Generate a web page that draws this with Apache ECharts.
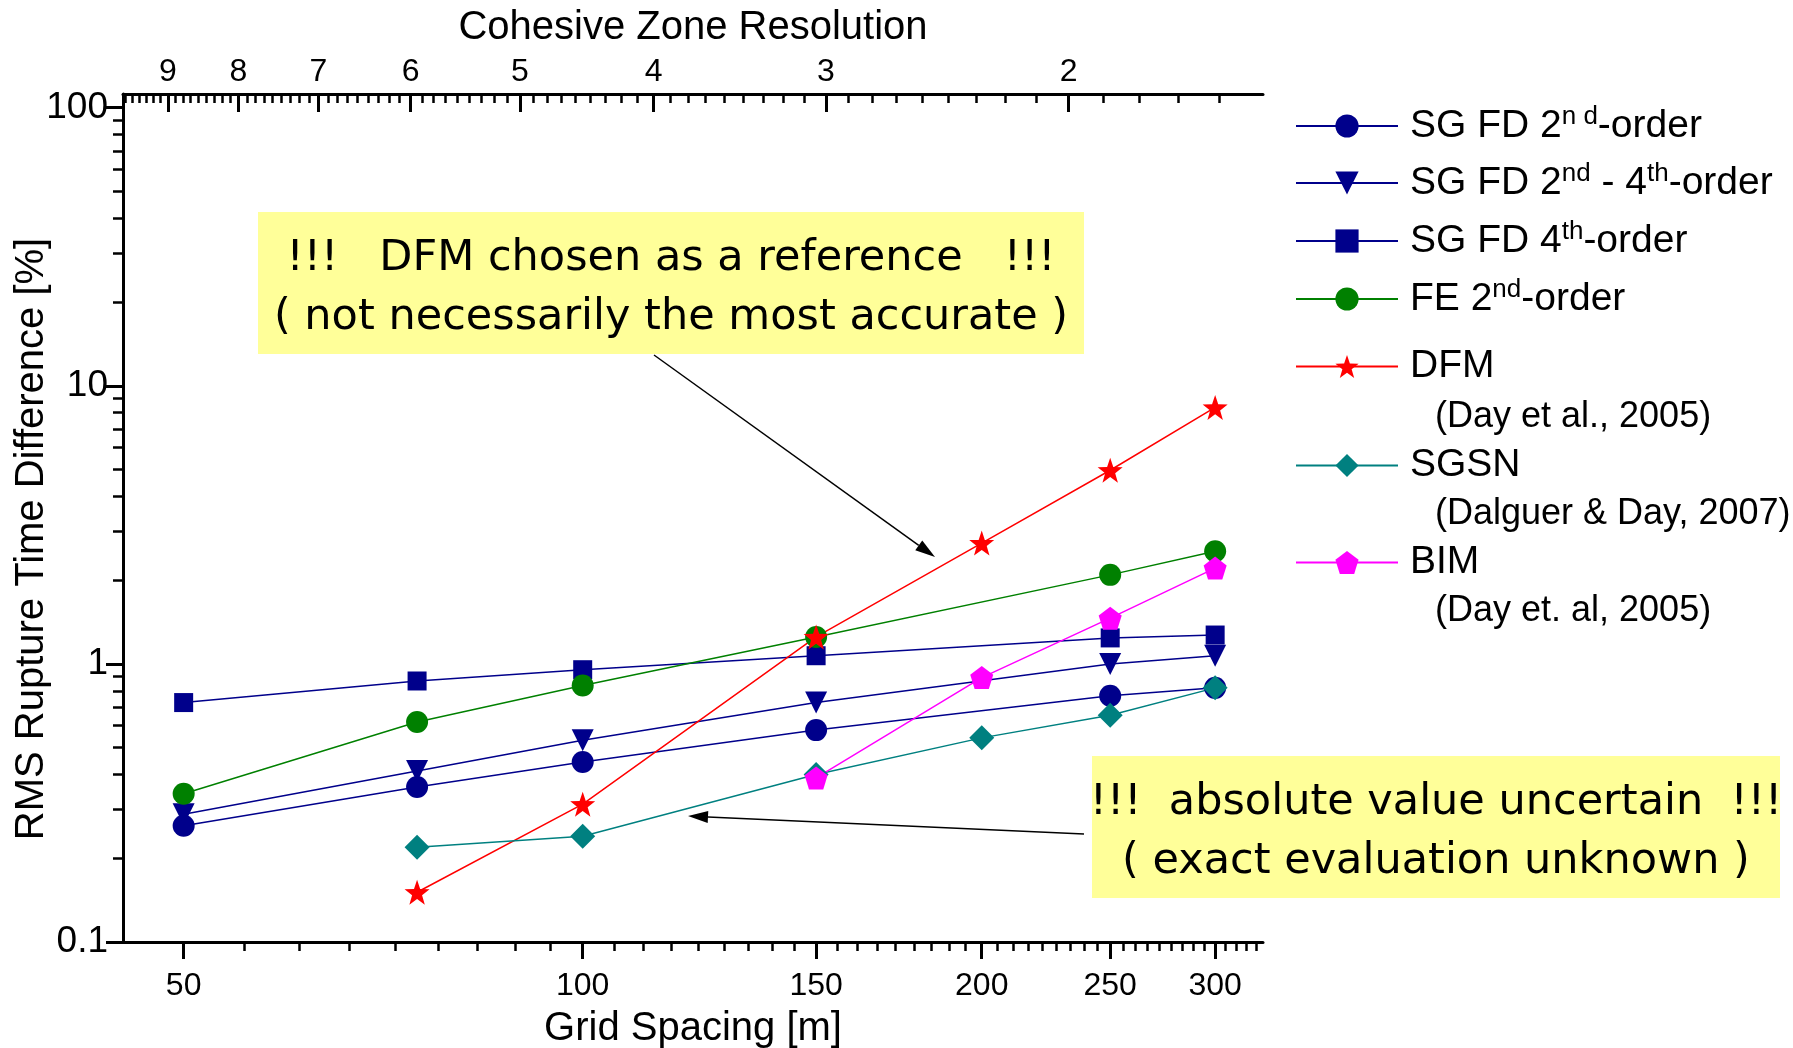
<!DOCTYPE html>
<html>
<head>
<meta charset="utf-8">
<script src="https://cdn.jsdelivr.net/npm/echarts@6/dist/echarts.min.js"></script>
<style>
  html, body { margin: 0; padding: 0; background: #fff; }
  #main { width: 1793px; height: 1048px; }
</style>
</head>
<body>
<div id="main"></div>
<script>
// grid spacing [m]
var spacing = [50, 75, 100, 150, 200, 250, 300];
// RMS rupture time difference [%], null = no run
var sgfd2  = [0.262, 0.361, 0.444, 0.578, null, 0.768, 0.820];
var sgfd24 = [0.288, 0.412, 0.531, 0.726, null, 1.000, 1.070];
var sgfd4  = [0.726, 0.868, 0.953, 1.070, null, 1.240, 1.270];
var fe2    = [0.341, 0.618, 0.836, 1.250, null, 2.090, 2.540];
var dfm    = [null, 0.151, 0.313, 1.250, 2.720, 4.970, 8.360];
var sgsn   = [null, 0.219, 0.240, 0.400, 0.542, 0.654, 0.820];
var bim    = [null, null, null, 0.389, 0.893, 1.460, 2.210];

// tick labels
var xTicks = [50, 100, 150, 200, 250, 300];
var yTicks = [0.1, 1, 10, 100];
var resTicks = [9, 8, 7, 6, 5, 4, 3, 2];

var FONT = '"Liberation Sans", Arial, sans-serif';

// minor ticks: 8 per major interval
var xMinor = [], resMinor = [], yMinor = [];
for (var a = 0; a < 350; a += 50) {
  for (var k = 1; k < 9; k++) xMinor.push(a + k * 50 / 9);
}
for (var r = 1; r < 10; r++) {
  for (var k = 1; k < 9; k++) resMinor.push(r + k / 9);
}
[0.1, 1, 10].forEach(function (d) {
  for (var k = 2; k < 10; k++) yMinor.push(d * k);
});

function pairs(vals) {
  var out = [];
  vals.forEach(function (v, i) {
    if (v != null) out.push([spacing[i], v]);
  });
  return out;
}

var starPath = 'path://M0,-10L2.35,-3.24L9.51,-3.09L3.8,1.24L5.88,8.09L0,4L-5.88,8.09L-3.8,1.24L-9.51,-3.09L-2.35,-3.24Z';
var pentaPath = 'path://M0,-10L9.51,-3.09L5.88,8.09L-5.88,8.09L-9.51,-3.09Z';

function mkSeries(name, vals, color, symbol, size, rotate) {
  return {
    name: name,
    type: 'line',
    xAxisIndex: 0,
    yAxisIndex: 0,
    data: pairs(vals),
    symbol: symbol,
    symbolSize: size,
    symbolRotate: rotate || 0,
    lineStyle: { color: color, width: 1.5 },
    itemStyle: { color: color, borderWidth: 0 },
    emphasis: { disabled: true },
    animation: false
  };
}

var series = [
  mkSeries('SG FD 2nd-order', sgfd2, '#00008b', 'circle', 22),
  mkSeries('SG FD 2nd - 4th-order', sgfd24, '#00008b', 'triangle', 22, 180),
  mkSeries('SG FD 4th-order', sgfd4, '#00008b', 'rect', 19),
  mkSeries('FE 2nd-order', fe2, '#008000', 'circle', 22),
  mkSeries('DFM', dfm, '#ff0000', starPath, 25),
  mkSeries('SGSN', sgsn, '#008080', 'diamond', 25),
  mkSeries('BIM', bim, '#ff00ff', pentaPath, 23)
];

// legend labels with superscripts
var richNames = {
  'SG FD 2nd-order': '{f|SG FD 2}{s|n d}{n|-order}',
  'SG FD 2nd - 4th-order': '{f|SG FD 2}{s|nd}{n| - 4}{s|th}{n|-order}',
  'SG FD 4th-order': '{f|SG FD 4}{s|th}{n|-order}',
  'FE 2nd-order': '{f|FE 2}{s|nd}{n|-order}',
  'DFM': '{f|DFM}',
  'SGSN': '{f|SGSN}',
  'BIM': '{f|BIM}'
};
var legendTops = [104, 161, 219, 277, 347, 446, 543];

var legends = series.map(function (s, i) {
  return {
    data: [s.name],
    left: 1295,
    top: legendTops[i],
    padding: 0,
    itemWidth: 102,
    itemHeight: 29,
    selectedMode: false,
    formatter: function (n) { return richNames[n]; },
    textStyle: {
      color: '#000',
      fontFamily: FONT,
      rich: {
        f: { fontSize: 39, fontFamily: FONT, color: '#000', lineHeight: 44, padding: [0, 0, 0, 7] },
        n: { fontSize: 39, fontFamily: FONT, color: '#000', lineHeight: 44 },
        s: { fontSize: 26, fontFamily: FONT, color: '#000', lineHeight: 24, verticalAlign: 'top' }
      }
    }
  };
});

function arrow(x1, y1, x2, y2) {
  var dx = x2 - x1, dy = y2 - y1;
  var len = Math.sqrt(dx * dx + dy * dy);
  var ux = dx / len, uy = dy / len;
  var hl = 20, hw = 6;
  var bx = x2 - ux * hl, by = y2 - uy * hl;
  return [
    { type: 'line', shape: { x1: x1, y1: y1, x2: bx, y2: by },
      style: { stroke: '#000', lineWidth: 1.5 }, z: 100 },
    { type: 'polygon', shape: { points: [[x2, y2], [bx - uy * hw, by + ux * hw], [bx + uy * hw, by - ux * hw]] },
      style: { fill: '#000' }, z: 100 }
  ];
}

function note(x, y, w, h, lines) {
  var els = [{ type: 'rect', shape: { x: x, y: y, width: w, height: h }, style: { fill: '#ffff99' }, z: 90 }];
  lines.forEach(function (t, i) {
    els.push({
      type: 'text', x: x + w / 2, y: y + 47 + i * 59, z: 91,
      style: { text: t, fill: '#000', fontSize: 43, fontFamily: '"DejaVu Sans", sans-serif', align: 'center', verticalAlign: 'middle' }
    });
  });
  return els;
}

var cite = [['(Day et al., 2005)', 417], ['(Dalguer & Day, 2007)', 514], ['(Day et. al, 2005)', 611]];

var graphic = []
  .concat(note(258, 212, 826, 142, ['!!!   DFM chosen as a reference   !!!', '( not necessarily the most accurate )']))
  .concat(note(1092, 756, 688, 142, ['!!!  absolute value uncertain  !!!', '( exact evaluation unknown )']))
  .concat(arrow(654, 355, 935, 557))
  .concat(arrow(1084, 834, 688, 816))
  .concat(cite.map(function (c) {
    return { type: 'text', x: 1435, y: c[1], style: { text: c[0], fill: '#000', fontSize: 36, fontFamily: FONT, verticalAlign: 'middle' } };
  }));

var lineStyle = { color: '#000', width: 3 };

var option = {
  backgroundColor: '#fff',
  animation: false,
  grid: { left: 123, right: 530, top: 94, bottom: 106, containLabel: false, outerBoundsMode: 'none' },
  legend: legends,
  xAxis: [
    {
      type: 'log', position: 'bottom', min: 45, max: 326,
      name: 'Grid Spacing [m]', nameLocation: 'middle', nameGap: 67, nameMoveOverlap: false,
      nameTextStyle: { fontSize: 40, fontFamily: FONT, color: '#000' },
      axisLine: { show: true, lineStyle: lineStyle },
      axisTick: { show: true, inside: false, length: 17, lineStyle: { color: '#000', width: 3 }, customValues: xTicks },
      axisLabel: { show: true, margin: 28, fontSize: 32, fontFamily: FONT, color: '#000', customValues: xTicks },
      splitLine: { show: false }, minorTick: { show: false }
    },
    {
      type: 'log', position: 'top', inverse: true, min: 1.446, max: 9.70,
      name: 'Cohesive Zone Resolution', nameLocation: 'middle', nameGap: 46, nameMoveOverlap: false,
      nameTextStyle: { fontSize: 40, fontFamily: FONT, color: '#000' },
      axisLine: { show: true, lineStyle: lineStyle },
      axisTick: { show: true, inside: true, length: 18, lineStyle: { color: '#000', width: 3 }, customValues: resTicks },
      axisLabel: { show: true, margin: 6, fontSize: 32, fontFamily: FONT, color: '#000', customValues: resTicks },
      splitLine: { show: false }
    },
    {
      type: 'log', position: 'bottom', min: 45, max: 326,
      axisLine: { show: false },
      axisTick: { show: true, inside: false, length: 9, lineStyle: { color: '#000', width: 2.5 }, customValues: xMinor },
      axisLabel: { show: false },
      splitLine: { show: false }
    },
    {
      type: 'log', position: 'top', inverse: true, min: 1.446, max: 9.70,
      axisLine: { show: false },
      axisTick: { show: true, inside: true, length: 9, lineStyle: { color: '#000', width: 2.5 }, customValues: resMinor },
      axisLabel: { show: false },
      splitLine: { show: false }
    }
  ],
  yAxis: [
    {
      type: 'log', position: 'left', min: 0.1, max: 112,
      name: 'RMS Rupture Time Difference [%]', nameLocation: 'middle', nameGap: 71, nameMoveOverlap: false,
      nameTextStyle: { fontSize: 40, fontFamily: FONT, color: '#000', padding: [0, 42, 0, 0] },
      axisLine: { show: true, lineStyle: lineStyle },
      axisTick: { show: true, inside: false, length: 17, lineStyle: { color: '#000', width: 3 }, customValues: yTicks },
      axisLabel: { show: true, margin: 15, fontSize: 37, fontFamily: FONT, color: '#000', customValues: yTicks },
      splitLine: { show: false }
    },
    {
      type: 'log', position: 'left', min: 0.1, max: 112,
      axisLine: { show: false },
      axisTick: { show: true, inside: false, length: 10, lineStyle: { color: '#000', width: 2.5 }, customValues: yMinor },
      axisLabel: { show: false },
      splitLine: { show: false }
    }
  ],
  series: series,
  graphic: graphic
};

var chart = echarts.init(document.getElementById('main'), null, { renderer: 'canvas' });
chart.setOption(option);
</script>
</body>
</html>
